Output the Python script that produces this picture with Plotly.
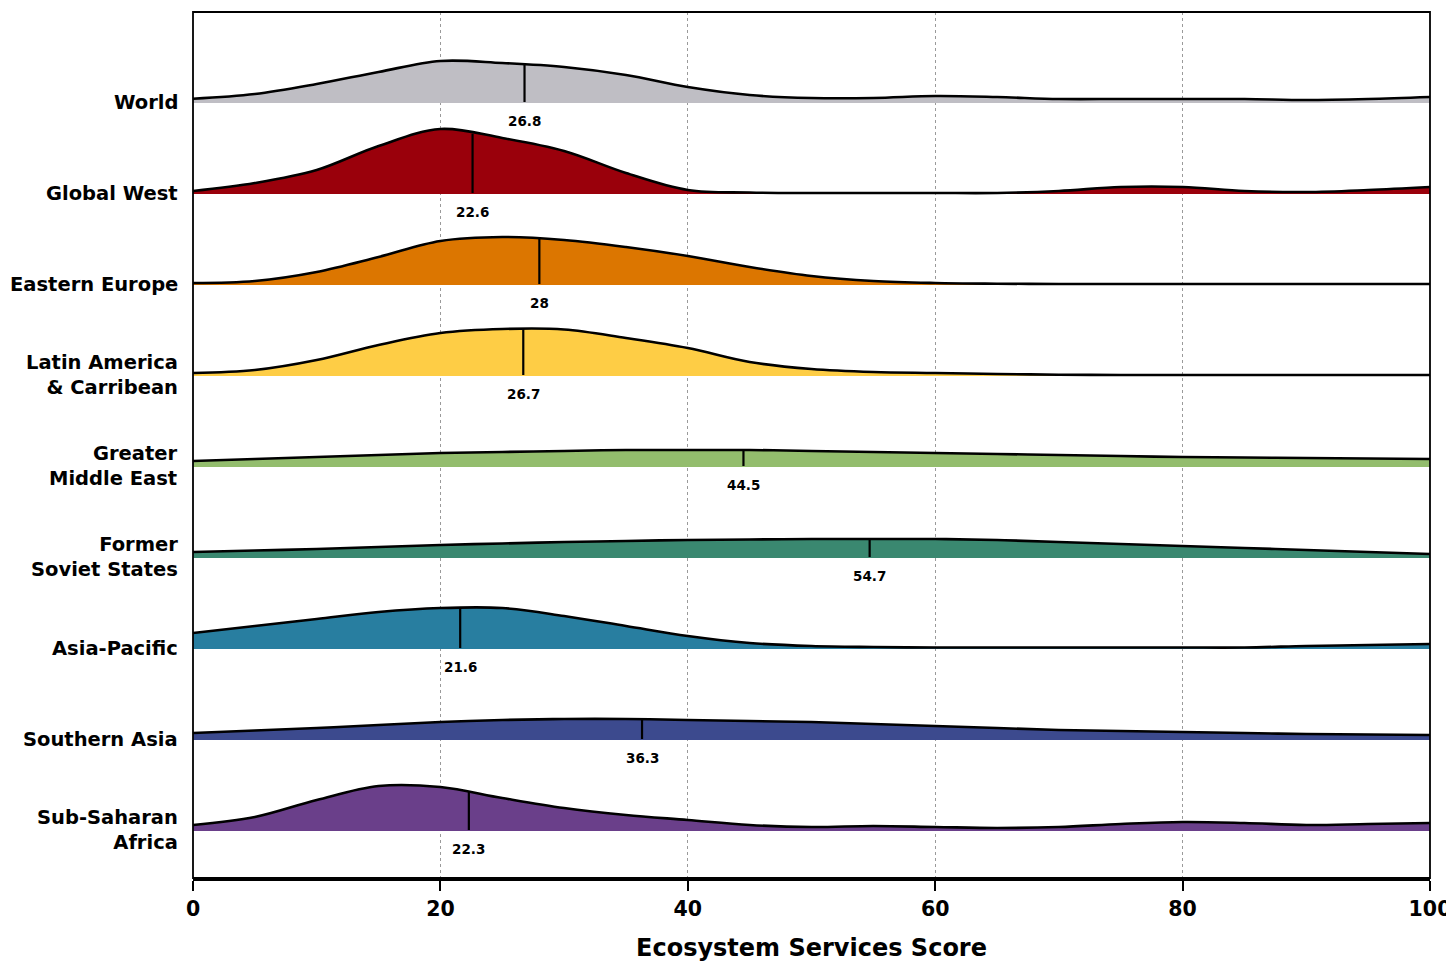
import plotly.graph_objects as go
import numpy as np

# ---- data ----
regions = ["World", "Global West", "Eastern Europe", "Latin America<br>& Carribean",
           "Greater<br>Middle East", "Former<br>Soviet States", "Asia-Pacific",
           "Southern Asia", "Sub-Saharan<br>Africa"]
means = [26.8, 22.6, 28, 26.7, 44.5, 54.7, 21.6, 36.3, 22.3]
colors = ["#bfbec4", "#9a000b", "#dc7600", "#fecd45", "#93bd6d", "#3a8870",
          "#287ea0", "#3c4a8e", "#6a3f8a"]
score_grid = [0, 5, 10, 15, 20, 25, 30, 35, 40, 45, 50, 55, 60, 65, 70, 75, 80, 85, 90, 95, 100]

# relative density (ridge height, in units of the ridge spacing x 91)
world = [3.3, 8, 18, 30, 41, 39, 35, 27, 15, 7, 4, 4, 6, 5, 3, 3, 3, 3, 2, 3, 5]
global_west = [2, 10, 23, 47, 64, 55, 42, 20, 3, 0.5, 0, 0, 0, 0, 2, 6, 6, 2, 1, 3, 6]
eastern_europe = [1, 3, 12, 27, 43, 47, 44, 37, 28, 17, 8, 3, 1, 0.3, 0, 0, 0, 0, 0, 0, 0]
latin_america = [2, 5, 15, 30, 42, 46, 45.5, 37, 27, 13, 6, 3, 2, 1, 0.3, 0, 0, 0, 0, 0, 0]
middle_east = [5, 7, 9, 11, 13, 14, 15, 16, 16, 16, 15, 14, 13, 12, 11, 10, 9, 8.5, 8, 7.5, 7]
former_soviet = [5, 6.5, 8, 10, 12, 13.5, 15, 16, 17, 17.5, 18, 18, 18, 17, 15, 13, 11, 9, 7, 5, 3]
asia_pacific = [15, 22, 29, 36, 40, 40, 32, 22, 12, 5, 2, 1, 0.5, 0.5, 0.5, 0.5, 0.5, 0.5, 2, 3, 4]
southern_asia = [6, 8.5, 11, 14, 17, 19, 20, 20, 19, 18, 17, 15, 13, 11, 9, 8, 7, 6, 5, 4.5, 4]
sub_saharan = [5, 13, 30, 44, 43, 32, 22, 15, 10, 5, 3, 4, 3, 2, 3, 6, 8, 7, 5, 6, 7]

densities = [world, global_west, eastern_europe, latin_america, middle_east,
             former_soviet, asia_pacific, southern_asia, sub_saharan]
x_ticks = [0, 20, 40, 60, 80, 100]

PX = 91.0  # pixels per ridge spacing
n = len(regions)
FONT = "DejaVu Sans"

fig = go.Figure()
for i, (name, dens, col, m) in enumerate(zip(regions, densities, colors, means)):
    base = n - 1 - i
    d = np.array(dens) / PX
    fig.add_trace(go.Scatter(x=score_grid, y=[base] * len(score_grid), mode="lines",
                             line=dict(color=col, width=2), showlegend=False, hoverinfo="skip"))
    fig.add_trace(go.Scatter(x=score_grid, y=base + d, mode="lines", fill="tonexty",
                             fillcolor=col, line=dict(color="black", width=2.6, shape="spline",
                                                      smoothing=1.0),
                             showlegend=False, name=name.replace("<br>", " ")))
    hm = np.interp(m, score_grid, d)
    fig.add_trace(go.Scatter(x=[m, m], y=[base, base + hm], mode="lines",
                             line=dict(color="black", width=2.2), showlegend=False,
                             hoverinfo="skip"))
    fig.add_annotation(x=m, y=base, text=f"<b>{m:g}</b>", showarrow=False,
                       yshift=-19, font=dict(size=13.5, color="black", family=FONT))
    fig.add_annotation(x=0, y=base, xref="x", text=f"<b>{name}</b>", showarrow=False,
                       xanchor="right", align="right", xshift=-13,
                       font=dict(size=19.5, color="black", family=FONT))

fig.update_layout(
    width=1454, height=966,
    margin=dict(l=185, r=32, t=4, b=96),
    plot_bgcolor="white", paper_bgcolor="white",
    showlegend=False,
    xaxis=dict(range=[0, 100], tickvals=x_ticks, ticktext=[f"<b>{v}</b>" for v in x_ticks],
               tickfont=dict(size=20.5, color="black", family=FONT),
               ticks="outside", ticklen=10, tickwidth=1.5, tickcolor="black",
               showgrid=True, gridcolor="#9a9a9a", griddash="dot", gridwidth=1,
               showline=True, linecolor="black", linewidth=3, mirror=False,
               zeroline=False, automargin=False,
               title=dict(text="<b>Ecosystem Services Score</b>", standoff=20,
                          font=dict(size=24, color="black", family=FONT))),
    yaxis=dict(range=[-48 / PX, 8 + 90 / PX], showticklabels=False, showgrid=False,
               zeroline=False, showline=False, automargin=False),
    shapes=[dict(type="rect", xref="paper", yref="paper", x0=0, x1=1, y0=0, y1=1,
                 line=dict(color="black", width=1.8), layer="above")],
)

fig.write_html("out.html")
